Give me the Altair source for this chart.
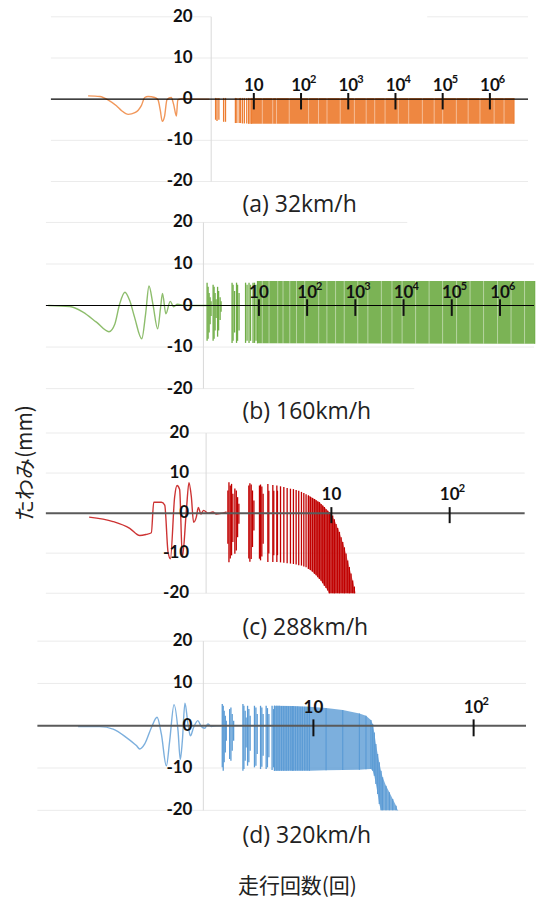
import altair as alt
import pandas as pd

# ----------------------------------------------------------------------------
# DATA
# x unit: log10(number of passes) on the right part of each panel; the left
# part (single-pass deflection history) is drawn on the same unit.
# y unit: deflection in mm
# ----------------------------------------------------------------------------
Y_VALUES = [20, 10, 0, -10, -20]
Y_TEXT = ["20", "10", "0", "-10", "-20"]

# ---- (a) 32 km/h ----
A_TITLE = "(a) 32km/h"
A_WAVE_X = [-2.51, -2.26, -2.09, -1.91, -1.80, -1.66, -1.52, -1.38, -1.31, -1.24, -1.10, -1.03,
            -0.98, -0.94, -0.89, -0.84, -0.75, -0.70, -0.64, -0.61, -0.47, -0.25, 0.06]
A_WAVE_Y = [0.8, 0.65, -0.15, -1.6, -2.8, -3.7, -3.3, -1.5, 0.4, 0.65, 0.4, -0.15,
            -2.8, -5.4, -4.1, -0.15, 0.4, -1.2, -4.1, -0.15, 0.15, 0.0, 0.0]
A_RULE_X = [0.19, 0.22, 0.26, 0.36, 0.40, 0.61, 0.64, 0.69, 0.72, 0.76, 0.80, 0.85, 0.89, 0.92]
A_RULE_TOP = [0.3, 0.3, 0.3, 0.3, 0.3, 0.3, 0.3, 0.3, 0.3, 0.3, 0.3, 0.3, 0.3, 0.3]
A_RULE_BOT = [-5.0, -5.3, -5.0, -5.5, -5.5, -5.8, -5.8, -5.8, -5.8, -5.9, -5.9, -5.9, -6.0, -6.0]
A_ENV_X = [0.95, 6.51]
A_ENV_TOP = [0.3, 0.3]
A_ENV_BOT = [-6.0, -6.0]
A_STREAK_X = [1.18, 1.40, 1.48, 1.75, 2.16, 2.37, 2.55, 2.83, 3.13, 3.38, 3.56, 3.78, 4.06,
              4.28, 4.57, 4.82, 5.00, 5.29, 5.54, 5.79, 6.09, 6.30]
A_TICKS = [1, 2, 3, 4, 5, 6]
A_TICK_BASE = ["10", "10", "10", "10", "10", "10"]
A_TICK_EXP = ["", "2", "3", "4", "5", "6"]

# ---- (b) 160 km/h ----
B_TITLE = "(b) 160km/h"
B_WAVE_X = [-3.37, -2.92, -2.65, -2.37, -2.11, -1.99, -1.89, -1.78, -1.68, -1.58, -1.43, -1.35,
            -1.28, -1.20, -1.10, -1.04, -1.00, -0.93, -0.84, -0.77, -0.69, -0.54, -0.23, -0.02]
B_WAVE_Y = [0.0, -0.25, -1.6, -4.0, -6.3, -4.5, 0.3, 3.2, 1.2, -2.8, -8.0, -2.0,
            4.7, 0.4, -5.6, -0.5, 2.9, -2.0, 1.0, -0.3, 0.3, 0.0, 0.0, 0.0]
B_RULE_X = [-0.075, -0.054, -0.033, -0.012, 0.008, 0.050, 0.070, 0.091, 0.112, 0.143, 0.164,
            0.195, 0.215, 0.443, 0.464, 0.495, 0.536, 0.557, 0.588, 0.723, 0.754, 0.795, 0.826,
            0.878, 0.909, 0.940]
B_RULE_TOP = [5.5, 4.5, 3.0, 2.0, 1.0, 5.0, 4.5, 3.0, 1.5, 4.5, 3.5, 2.0, 1.0, 5.5, 5.0, 3.5,
              5.5, 5.0, 3.0, 5.5, 5.0, 5.5, 5.0, 5.5, 5.5, 5.0]
B_RULE_BOT = [-8.5, -8.0, -6.5, -4.5, -2.5, -8.5, -8.0, -6.0, -3.0, -7.5, -6.0, -3.5, -1.5, -9.0,
              -8.5, -6.5, -9.0, -8.5, -6.0, -9.0, -8.5, -9.0, -8.5, -9.0, -9.0, -8.5]
B_ENV_X = [0.97, 6.72]
B_ENV_TOP = [5.9, 5.9]
B_ENV_BOT = [-9.1, -9.2]
B_STREAK_X = [1.07, 1.21, 1.39, 1.50, 1.64, 1.78, 1.95, 2.24, 2.41, 2.59, 2.77, 3.05, 3.26,
              3.54, 3.76, 3.97, 4.25, 4.53, 4.81, 5.10, 5.38, 5.66, 5.95, 6.23, 6.51]
B_TICKS = [1, 2, 3, 4, 5, 6]
B_TICK_BASE = ["10", "10", "10", "10", "10", "10"]
B_TICK_EXP = ["", "2", "3", "4", "5", "6"]

# ---- (c) 288 km/h ----
C_TITLE = "(c) 288km/h"
C_WAVE_X = [-1.048, -0.846, -0.705, -0.620, -0.564, -0.522, -0.502, -0.437, -0.409, -0.381,
            -0.361, -0.325, -0.305, -0.283, -0.260, -0.226, -0.204, -0.184, -0.165, -0.142,
            -0.125, -0.103, -0.080, -0.044, -0.002, 0.027, 0.083, 0.114]
C_WAVE_Y = [-1.0, -2.1, -3.8, -5.6, -5.3, -4.9, 2.7, 2.7, 2.0, -9.7,
            -11.4, 4.1, 6.9, 5.9, -11.0, 0.7, 7.6, 4.1, -2.3, -1.0,
            1.4, -0.2, 0.7, 0.0, 0.3, -0.2, 0.0, 0.3]
C_RULE_X = [0.125, 0.134, 0.145, 0.156, 0.167, 0.184, 0.196, 0.207, 0.218,
            0.302, 0.311, 0.322, 0.333, 0.345, 0.392, 0.401, 0.412, 0.423,
            0.463, 0.471, 0.505, 0.513, 0.539, 0.544, 0.570, 0.598, 0.626, 0.654,
            0.679, 0.702, 0.724, 0.747, 0.767, 0.786, 0.806, 0.823, 0.840, 0.857,
            0.871, 0.885, 0.899, 0.913, 0.927, 0.941, 0.955, 0.969, 0.983, 0.997,
            1.011, 1.025, 1.039, 1.053, 1.068, 1.082, 1.096, 1.110, 1.124, 1.138,
            1.152, 1.166, 1.180, 1.194]
C_RULE_TOP = [5.65, 7.72, 6.89, 7.31, 4.82, 6.15, 5.65, 3.99, 2.33,
              6.89, 7.48, 7.14, 5.65, 3.16, 6.89, 7.14, 6.64, 4.82,
              7.3, 5.6, 7.0, 5.6, 6.9, 5.6, 6.7, 6.5, 6.3, 6.1,
              6.0, 5.8, 5.6, 5.3, 5.0, 4.7, 4.4, 4.1, 3.8, 3.5,
              3.2, 2.9, 2.7, 2.3, 1.9, 1.5, 1.0, 0.6, 0.2, -0.2,
              -0.6, -1.6, -2.7, -3.7, -4.7, -6.0, -7.2, -8.6, -10.1, -11.8,
              -13.5, -15.1, -16.8, -18.4]
C_RULE_BOT = [-7.64, -12.29, -11.30, -10.55, -7.23, -10.13, -9.30, -6.01, -2.66,
              -11.30, -12.13, -11.46, -8.47, -4.32, -11.38, -11.79, -10.80, -7.64,
              -12.2, -10.1, -12.2, -10.5, -12.2, -10.5, -12.3, -12.4, -12.5, -12.6,
              -12.7, -12.8, -13.0, -13.1, -13.3, -13.5, -13.9, -14.2, -14.6, -15.1,
              -15.5, -16.0, -16.4, -16.9, -17.5, -18.1, -18.7, -19.3, -20, -20,
              -20, -20, -20, -20, -20, -20, -20, -20, -20, -20,
              -20, -20, -20, -20]
C_ENV_X = [0.806, 0.857, 0.899, 0.941, 0.983, 1.025, 1.068, 1.110, 1.152, 1.194, 1.205]
C_ENV_TOP = [4.4, 3.5, 2.7, 1.5, 0.2, -1.6, -4.7, -8.6, -13.5, -18.4, -20]
C_ENV_BOT = [-13.9, -15.1, -16.4, -18.1, -20, -20, -20, -20, -20, -20, -20]
C_TICKS = [1, 2]
C_TICK_BASE = ["10", "10"]
C_TICK_EXP = ["", "2"]

# ---- (d) 320 km/h ----
D_TITLE = "(d) 320km/h"
D_WAVE_X = [-0.469, -0.333, -0.250, -0.167, -0.105, -0.084, -0.053, -0.011, 0.024, 0.051,
            0.082, 0.103, 0.130, 0.155, 0.169, 0.182, 0.198, 0.217, 0.232, 0.252,
            0.279, 0.300, 0.321, 0.341, 0.363, 0.394, 0.425]
D_WAVE_Y = [-0.2, -0.2, -0.8, -2.8, -4.7, -5.5, -4.3, -0.4, 2.0, -2.0,
            -9.5, -3.5, 5.0, -1.2, -8.0, -3.5, 5.3, 0.4, -2.4, -0.4,
            1.2, -0.2, -0.6, 0.4, -0.2, 0.0, 0.0]
D_RULE_X = [0.431, 0.437, 0.443, 0.450, 0.456, 0.477, 0.485, 0.493, 0.502, 0.560, 0.566,
            0.574, 0.580, 0.589, 0.597, 0.605, 0.632, 0.641, 0.649, 0.670, 0.678, 0.686,
            0.705, 0.713, 0.722, 0.742, 0.751,
            0.757, 0.772, 0.786, 0.801, 0.815, 0.830, 0.844, 0.859, 0.873, 0.888, 0.902,
            0.917, 0.931, 0.946, 0.961]
D_RULE_TOP = [5.12, 4.72, 3.54, 2.36, 1.18, 3.94, 4.33, 2.76, 1.18, 5.12, 4.72,
              3.54, 1.97, 4.72, 3.94, 2.36, 4.72, 4.33, 2.76, 4.72, 4.33, 2.76,
              4.72, 4.17, 2.76, 4.72, 3.94,
              4.72, 4.72, 4.72, 4.65, 4.65, 4.65, 4.6, 4.6, 4.6, 4.55, 4.55,
              4.5, 4.5, 4.5, 4.5]
D_RULE_BOT = [-9.84, -10.63, -8.66, -6.30, -3.54, -7.87, -8.27, -5.91, -3.54, -10.63, -10.24,
              -8.27, -5.12, -9.45, -8.66, -5.91, -9.84, -9.45, -6.69, -10.24, -9.69, -7.09,
              -10.24, -9.84, -7.48, -10.47, -9.84,
              -10.63, -10.63, -10.63, -10.63, -10.63, -10.63, -10.6, -10.6, -10.6, -10.6, -10.6,
              -10.6, -10.6, -10.6, -10.6]
D_ENV_X = [0.757, 0.871, 0.975, 1.079, 1.183, 1.287, 1.328, 1.359, 1.370, 1.380,
           1.390, 1.401, 1.411, 1.422, 1.432, 1.453, 1.474, 1.495, 1.516, 1.525]
D_ENV_TOP = [4.72, 4.65, 4.49, 4.17, 3.70, 2.91, 2.36, 1.34, 0.39, -1.57,
             -4.33, -6.69, -8.66, -10.63, -12.20, -14.17, -15.75, -17.32, -18.90, -19.9]
D_ENV_BOT = [-10.63, -10.63, -10.63, -10.55, -10.47, -10.39, -10.31, -10.24, -10.63, -11.81,
             -13.78, -16.14, -18.50, -20, -20, -20, -20, -20, -20, -20]
D_TICKS = [1, 2]
D_TICK_BASE = ["10", "10"]
D_TICK_EXP = ["", "2"]

Y_TITLE = "たわみ(mm)"
X_TITLE = "走行回数(回)"

# ----------------------------------------------------------------------------
# LAYOUT / STYLE
# ----------------------------------------------------------------------------
W = 536
FONT_NUM = "Lato"
FONT_TITLE = "Open Sans"
FONT_JP = "Noto Sans CJK JP"

PANELS = [
    dict(title=A_TITLE, color="#ED7D31", height=215, y_top=16, y_bot=181, origin=207, ppd=47.3,
         wave=(A_WAVE_X, A_WAVE_Y), rules=(A_RULE_X, A_RULE_TOP, A_RULE_BOT),
         env=(A_ENV_X, A_ENV_TOP, A_ENV_BOT), env_opacity=0.92, streaks=A_STREAK_X,
         ticks=(A_TICKS, A_TICK_BASE, A_TICK_EXP), tick_label_y=2.0,
         ylab_x=-0.296, axis_x=0.097,
         grid=([20, 20, 10, -10, -20], [-3.298, 4.672, -3.298, -3.298, -3.298],
               [0.097, 6.808, 6.808, 6.808, 6.808]),
         zero=(-3.298, 6.808), zero_color="#000000", zero_w=1.2, title_y=205),
    dict(title=B_TITLE, color="#70AD47", height=212, y_top=7, y_bot=173.5, origin=211.1, ppd=48.3,
         wave=(B_WAVE_X, B_WAVE_Y), rules=(B_RULE_X, B_RULE_TOP, B_RULE_BOT),
         env=(B_ENV_X, B_ENV_TOP, B_ENV_BOT), env_opacity=0.92, streaks=B_STREAK_X,
         ticks=(B_TICKS, B_TICK_BASE, B_TICK_EXP), tick_label_y=1.8,
         ylab_x=-0.375, axis_x=-0.151,
         grid=([20, 10, -10, -20], [-3.418, -3.418, -3.418, -3.418],
               [4.077, 6.706, 6.706, 4.222]),
         zero=(-3.418, 6.706), zero_color="#000000", zero_w=1.2, title_y=196.7),
    dict(title=C_TITLE, color="#C00000", height=213, y_top=6, y_bot=166.5, origin=213.5, ppd=118.5,
         wave=(C_WAVE_X, C_WAVE_Y), rules=(C_RULE_X, C_RULE_TOP, C_RULE_BOT),
         env=(C_ENV_X, C_ENV_TOP, C_ENV_BOT), env_opacity=0.55, streaks=None,
         ticks=(C_TICKS, C_TICK_BASE, C_TICK_EXP), tick_label_y=3.4,
         ylab_x=-0.203, axis_x=-0.059,
         grid=([20, 10, -10, -20], [-1.414] * 4, [2.634] * 4),
         zero=(-1.414, 2.634), zero_color="#5a5a5a", zero_w=2, title_y=201.3),
    dict(title=D_TITLE, color="#5B9BD5", height=262, y_top=1.5, y_bot=171, origin=153.5, ppd=160.5,
         wave=(D_WAVE_X, D_WAVE_Y), rules=(D_RULE_X, D_RULE_TOP, D_RULE_BOT),
         env=(D_ENV_X, D_ENV_TOP, D_ENV_BOT), env_opacity=0.8, streaks=None,
         ticks=(D_TICKS, D_TICK_BASE, D_TICK_EXP), tick_label_y=2.9,
         ylab_x=0.245, axis_x=0.313,
         grid=([20, 10, -10, -20], [-0.723] * 4, [2.327] * 4),
         zero=(-0.723, 2.327), zero_color="#5a5a5a", zero_w=2, title_y=196.7),
]


def build(p, extra_text=None):
    H = p["height"]
    k = (p["y_bot"] - p["y_top"]) / 40.0
    ydom = [-20 - (H - p["y_bot"]) / k, 20 + p["y_top"] / k]
    xdom = [-p["origin"] / p["ppd"], (W - p["origin"]) / p["ppd"]]
    xs = alt.Scale(domain=xdom, nice=False, zero=False)
    ys = alt.Scale(domain=ydom, nice=False, zero=False)

    def X(f):
        return alt.X(f, type="quantitative", scale=xs, axis=None)

    def Y(f):
        return alt.Y(f, type="quantitative", scale=ys, axis=None)

    def XD(v):
        return alt.XDatum(v, type="quantitative", scale=xs, axis=None)

    def YD(v):
        return alt.YDatum(v, type="quantitative", scale=ys, axis=None)

    color = p["color"]
    layers = []

    gy, gx0, gx1 = p["grid"]
    grid = pd.DataFrame({"gy": gy, "gx0": gx0, "gx1": gx1})
    layers.append(alt.Chart(grid).mark_rule(color="#ebebeb", strokeWidth=1).encode(
        x=X("gx0"), x2=alt.X2("gx1"), y=Y("gy")))

    one = pd.DataFrame({"v": [0]})
    layers.append(alt.Chart(one).mark_rule(color="#d9d9d9", strokeWidth=1).encode(
        x=XD(p["axis_x"]), y=YD(-20), y2=alt.Y2Datum(20)))

    ex, et, eb = p["env"]
    env = pd.DataFrame({"x": ex, "top": et, "bot": eb})
    layers.append(alt.Chart(env).mark_area(color=color, opacity=p["env_opacity"], orient="vertical").encode(
        x=X("x"), y=Y("top"), y2=alt.Y2("bot")))
    layers.append(alt.Chart(env).mark_rule(color=color, strokeWidth=1.2).encode(
        x=X("x"), y=Y("top"), y2=alt.Y2("bot")))

    if p["streaks"]:
        st = pd.DataFrame({"x": p["streaks"]})
        layers.append(alt.Chart(st).mark_rule(color="white", strokeWidth=1, opacity=0.45).encode(
            x=X("x"), y=YD(et[0]), y2=alt.Y2Datum(eb[-1])))

    rx, rt, rb = p["rules"]
    rules = pd.DataFrame({"x": rx, "top": rt, "bot": rb})
    layers.append(alt.Chart(rules).mark_rule(color=color, strokeWidth=1.3).encode(
        x=X("x"), y=Y("top"), y2=alt.Y2("bot")))

    wx, wy = p["wave"]
    wave = pd.DataFrame({"x": wx, "y": wy, "i": list(range(len(wx)))})
    layers.append(alt.Chart(wave).mark_line(color=color, strokeWidth=1.4, opacity=0.8,
                                            interpolate="monotone").encode(
        x=X("x"), y=Y("y"), order="i:Q"))

    z0, z1 = p["zero"]
    zero = pd.DataFrame({"x0": [z0], "x1": [z1]})
    layers.append(alt.Chart(zero).mark_rule(color=p["zero_color"], strokeWidth=p["zero_w"]).encode(
        x=X("x0"), x2=alt.X2("x1"), y=YD(0)))

    tx, tb, te = p["ticks"]
    ticks = pd.DataFrame({"t": tx, "base": tb, "exp": te})
    layers.append(alt.Chart(ticks).mark_rule(color="#111111", strokeWidth=2).encode(
        x=X("t"), y=YD(1.5), y2=alt.Y2Datum(-2.5)))
    layers.append(alt.Chart(ticks).mark_text(font=FONT_NUM, fontWeight="bold", fontSize=17,
                                             align="center", baseline="alphabetic",
                                             color="#111111").encode(
        x=X("t"), y=YD(p["tick_label_y"]), text="base:N"))
    layers.append(alt.Chart(ticks).mark_text(font=FONT_NUM, fontWeight="bold", fontSize=11,
                                             align="left", baseline="alphabetic", dx=9, dy=-8,
                                             color="#111111").encode(
        x=X("t"), y=YD(p["tick_label_y"]), text="exp:N"))

    ylab = pd.DataFrame({"v": Y_VALUES, "t": Y_TEXT})
    layers.append(alt.Chart(ylab).mark_text(font=FONT_NUM, fontWeight="bold", fontSize=17,
                                            align="right", baseline="middle",
                                            color="#111111").encode(
        x=XD(p["ylab_x"]), y=Y("v"), text="t:N"))

    layers.append(alt.Chart(one).mark_text(font=FONT_TITLE, fontSize=23, align="left",
                                           baseline="middle", color="#222222").encode(
        x=alt.value(243), y=alt.value(p["title_y"]), text=alt.value(p["title"])))

    if extra_text:
        for txt, xpx, ypx, ang in extra_text:
            mk = dict(font=FONT_JP, fontSize=21, align="center", baseline="middle", color="#222222")
            if ang:
                mk["angle"] = ang
            layers.append(alt.Chart(one).mark_text(**mk).encode(
                x=alt.value(xpx), y=alt.value(ypx), text=alt.value(txt)))

    return alt.layer(*layers).properties(width=W, height=H)


pa = build(PANELS[0])
pb = build(PANELS[1])
pc = build(PANELS[2], extra_text=[(Y_TITLE, 26, 36, 270)])
pd_ = build(PANELS[3], extra_text=[(X_TITLE, 298, 248, 0)])

chart = (
    alt.vconcat(pa, pb, pc, pd_, spacing=0, bounds="flush")
    .resolve_scale(x="independent", y="independent")
    .properties(padding=0, background="white")
    .configure_view(stroke=None)
)

chart.save("out.html", embed_options={"renderer": "svg", "actions": False})
